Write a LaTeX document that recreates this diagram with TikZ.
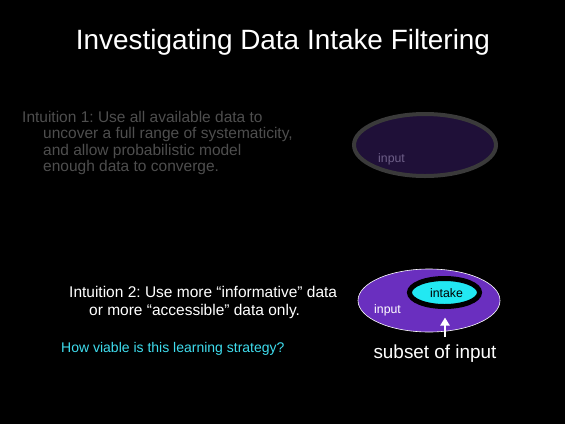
\documentclass[tikz,border=0pt]{standalone}
\usepackage{fontspec}
\setmainfont{Liberation Sans}
\frenchspacing
\usetikzlibrary{arrows.meta,shapes.geometric}
\definecolor{dimgray}{HTML}{4E4E4E}
\definecolor{ringgray}{HTML}{3A3A3A}
\definecolor{darkviolet}{HTML}{1F1038}
\definecolor{dimlabel}{HTML}{6E5F88}
\definecolor{violetfill}{HTML}{6A2FBF}
\definecolor{aqua}{HTML}{22E8F2}
\definecolor{skyblue}{HTML}{3FDDEE}
\begin{document}
\begin{tikzpicture}[x=1pt,y=-1pt,
  txt/.style={anchor=base west,inner sep=0pt,font=\fontsize{15.5}{18}\selectfont},
  faint/.style={txt,text=dimgray},
  setlabel/.style={inner sep=0pt,font=\fontsize{12.3}{14}\selectfont}]
\useasboundingbox[fill=black] (0,0) rectangle (565,424);
% title
\node[anchor=base,inner sep=0pt,text=white,font=\fontsize{27.9}{32}\selectfont] (title) at (283,49) {Investigating Data Intake Filtering};
% first intuition (dimmed)
\node[faint] (i1a) at (22,122) {Intuition 1: Use all available data to};
\node[faint] (i1b) at (43,138.5) {uncover a full range of systematicity,};
\node[faint] (i1c) at (43,155) {and allow probabilistic model};
\node[faint] (i1d) at (43,171.5) {enough data to converge.};
% dimmed input set
\node[draw=ringgray,line width=4pt,fill=darkviolet,ellipse,minimum width=142pt,minimum height=62pt,inner sep=0pt] (inA) at (425,145) {};
\node[setlabel,anchor=base west,text=dimlabel] (inAlab) at (378,162) {input};
% second intuition
\node[txt,text=white] (i2a) at (69,297) {Intuition 2: Use more “informative” data};
\node[txt,text=white] (i2b) at (89,315) {or more “accessible” data only.};
\node[anchor=base west,inner sep=0pt,text=skyblue,font=\fontsize{14}{16}\selectfont] (q) at (61,352) {How viable is this learning strategy?};
% input set with intake subset
\node[draw=white,line width=0.6pt,fill=violetfill,ellipse,minimum width=142pt,minimum height=63pt,inner sep=0pt] (inB) at (429,300.5) {};
\node[draw=black,line width=5pt,fill=aqua,ellipse,minimum width=70pt,minimum height=28pt,inner sep=0pt] (intake) at (444.5,292.5) {};
\node[setlabel,anchor=base,text=black] (intakelab) at (446.5,297) {intake};
\node[setlabel,anchor=base west,text=white] (inBlab) at (374,313) {input};
\coordinate (arrfoot) at (445,337);
\draw[white,line width=2.5pt,-{Triangle[length=8pt,width=9pt]}] (arrfoot) -- (445,317.5);
\node[anchor=base,inner sep=0pt,text=white,font=\fontsize{18.9}{22}\selectfont] (subset) at (435,358) {subset of input};
\end{tikzpicture}
\end{document}
